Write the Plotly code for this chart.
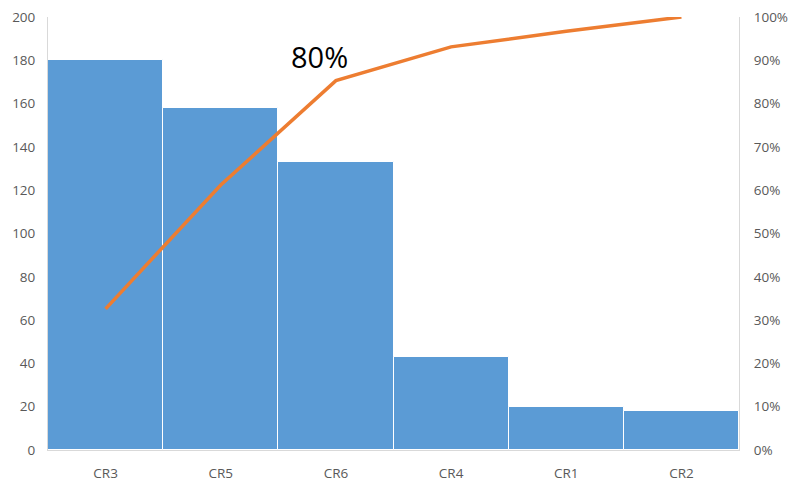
import plotly.graph_objects as go

categories = ["CR3", "CR5", "CR6", "CR4", "CR1", "CR2"]
counts = [180, 158, 133, 43, 20, 18]
cum_pct = [32.6, 61.2, 85.3, 93.1, 96.7, 100.0]
left_ticks = [0, 20, 40, 60, 80, 100, 120, 140, 160, 180, 200]
right_ticks = [0, 10, 20, 30, 40, 50, 60, 70, 80, 90, 100]

fig = go.Figure()
fig.add_trace(go.Bar(
    x=categories, y=counts,
    marker=dict(color="#5B9BD5", line=dict(color="white", width=1)),
    width=1.0, showlegend=False,
))
fig.add_trace(go.Scatter(
    x=categories, y=cum_pct, yaxis="y2", mode="lines", cliponaxis=False,
    line=dict(color="#ED7D31", width=3.5), showlegend=False,
))

font_tick = dict(family="Open Sans, Liberation Sans, sans-serif", size=13.5, color="#595959")
fig.update_layout(
    width=789, height=483,
    margin=dict(l=48, r=50, t=17, b=33),
    paper_bgcolor="white", plot_bgcolor="white",
    bargap=0,
    xaxis=dict(
        type="category", showgrid=False, showline=True, linecolor="#D9D9D9",
        linewidth=1, tickfont=font_tick, ticks="", range=[-0.5, 5.5],
        ticklabelstandoff=11, automargin=False,
    ),
    yaxis=dict(
        range=[0, 200], tickvals=left_ticks, showgrid=False, showline=True,
        linecolor="#D9D9D9", linewidth=1, tickfont=font_tick, ticks="",
        zeroline=False, ticklabelstandoff=9, automargin=False,
    ),
    yaxis2=dict(
        range=[0, 100], tickvals=right_ticks,
        ticktext=[f"{v}%" for v in right_ticks],
        overlaying="y", side="right", showgrid=False, showline=True,
        linecolor="#D9D9D9", linewidth=1, tickfont=font_tick, ticks="",
        zeroline=False, ticklabelstandoff=11, automargin=False,
    ),
    annotations=[dict(
        x=1.855, y=90.8, xref="x", yref="y2", text="80%", showarrow=False,
        font=dict(family="Open Sans, Liberation Sans, sans-serif", size=29, color="#000000"),
    )],
)

fig.write_html("out.html")
